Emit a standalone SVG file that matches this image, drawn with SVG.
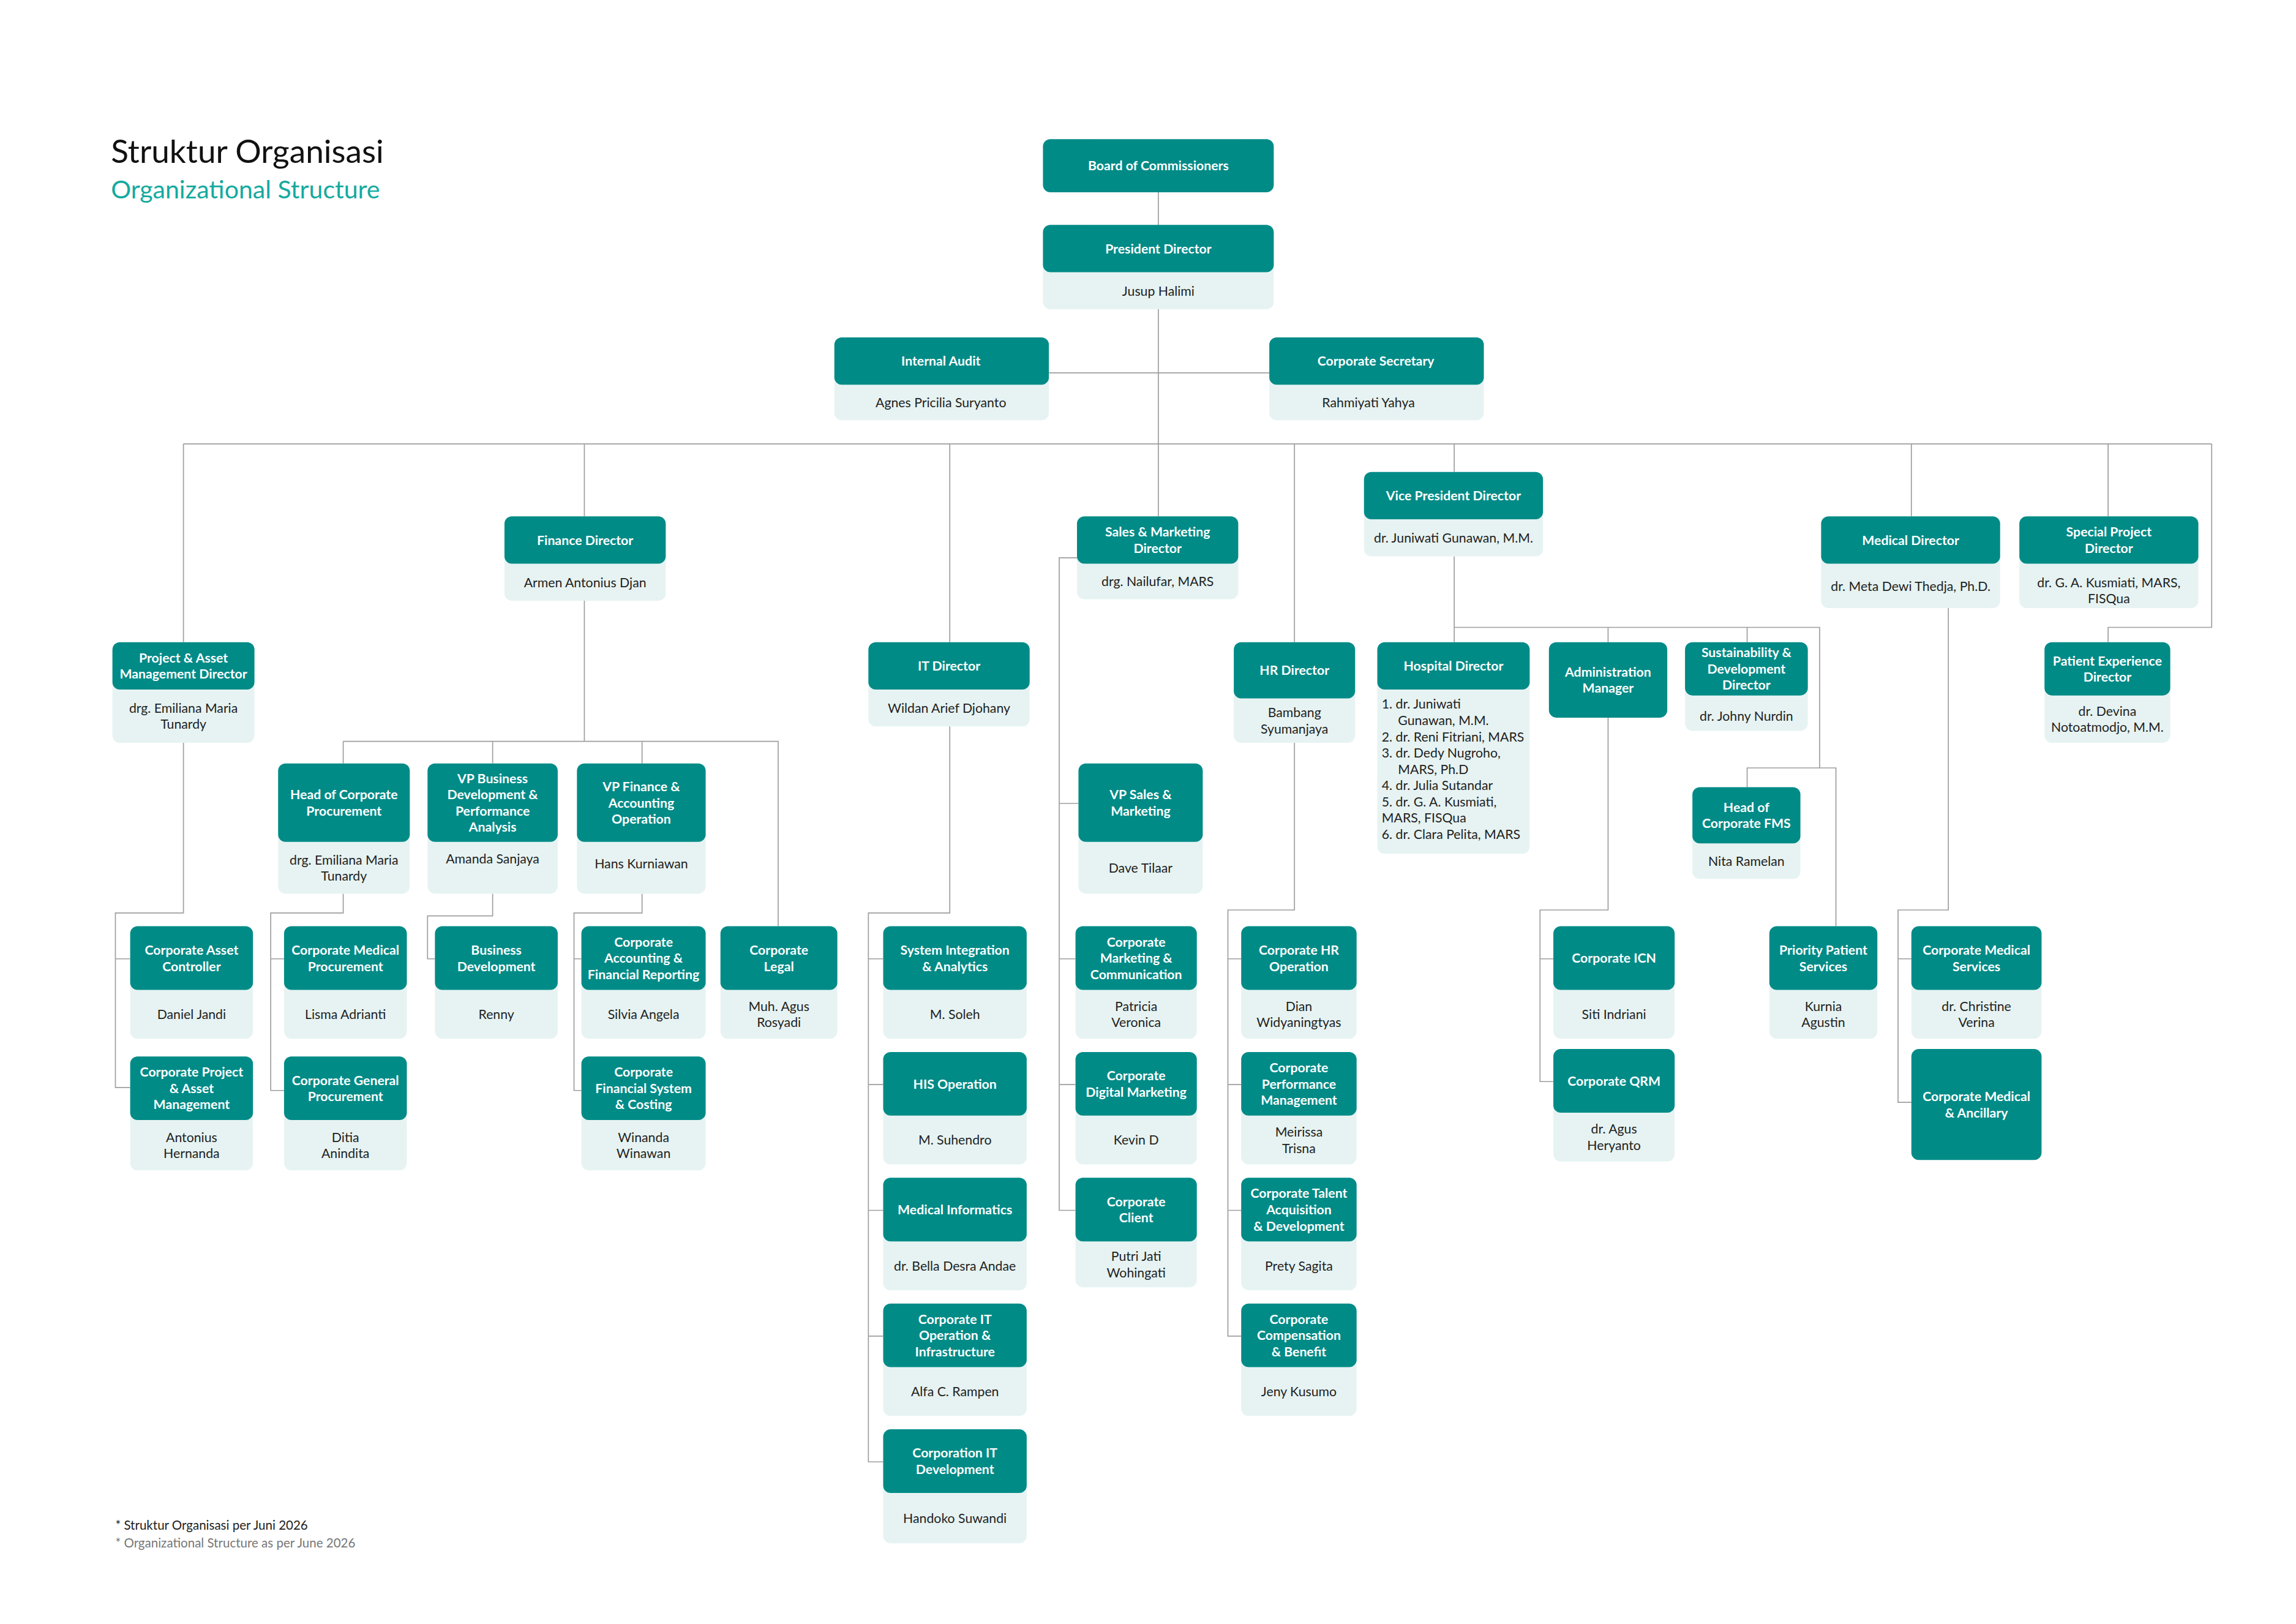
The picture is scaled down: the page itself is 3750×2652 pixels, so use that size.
<svg xmlns="http://www.w3.org/2000/svg" width="3750" height="2652" viewBox="0 0 3750 2652">
<style>
.h{fill:#008b87}.b{fill:#e6f3f2}
.ht{font-family:Lato,"Liberation Sans",sans-serif;font-weight:bold;font-size:8.8px;fill:#fff;text-anchor:middle}
.bt{font-family:Lato,"Liberation Sans",sans-serif;font-size:8.8px;fill:#222;text-anchor:middle}
.lt{font-family:Lato,"Liberation Sans",sans-serif;font-size:8.8px;fill:#222}
.c{fill:none;stroke:#9e9e9e;stroke-width:0.7}
</style>
<rect width="3750" height="2652" fill="#fff"/>
<g transform="scale(2.41624)">
<g id="title">
<text x="75" y="110" style="font-family:Lato,'Liberation Sans',sans-serif;font-size:22px;fill:#111">Struktur Organisasi</text>
<text x="75" y="134" style="font-family:Lato,'Liberation Sans',sans-serif;font-size:17px;fill:#14aaa0">Organizational Structure</text>
<text x="78" y="1034" style="font-family:Lato,'Liberation Sans',sans-serif;font-size:8.5px;fill:#222">* Struktur Organisasi per Juni 2026</text>
<text x="78" y="1046" style="font-family:Lato,'Liberation Sans',sans-serif;font-size:8.5px;fill:#777">* Organizational Structure as per June 2026</text>
</g>
<g id="connectors" class="c">
<path d="M783 130V300M709 252H858M124 300H1495M124 300V434M395 300V349M642 300V434M783 300V349M875 300V434M983 300V319M1292 300V349M1425 300V349M1495 300V424H1425V434"/>
<path d="M983 376V424H1230V519H1181V532M1087 424V434M1181 424V434M1230 519H1241V626M983 424V434"/>
<path d="M1087 485V615H1041V731H1050M1041 648H1050"/>
<path d="M1317 411V615H1283V745H1292M1283 648H1292"/>
<path d="M124 502V617H78V735H88M78 648H88"/>
<path d="M395 406V501M232 501H526V626M232 501V516M333 501V516M434 501V516"/>
<path d="M232 604V617H183V737H192M183 648H192"/>
<path d="M333 604V619H289V648H294"/>
<path d="M434 604V617H388V737H393M388 648H393"/>
<path d="M642 491V617H587V988H597M587 648H597M587 733H597M587 818H597M587 903H597"/>
<path d="M728 377H716V818H727M716 543H729M716 648H727M716 733H727"/>
<path d="M875 502V615H830V903H839M830 648H839M830 733H839M830 818H839"/>
</g>

<g id="board"><rect class="h" x="705" y="94" width="156" height="36" rx="5"/><text class="ht" x="783" y="115.2">Board of Commissioners</text></g>
<g id="president"><rect class="b" x="705" y="152" width="156" height="57" rx="5"/><rect class="h" x="705" y="152" width="156" height="32" rx="5"/><text class="ht" x="783" y="171.2">President Director</text><text class="bt" x="783" y="199.7">Jusup Halimi</text></g>
<g id="audit"><rect class="b" x="564" y="228" width="145" height="56" rx="5"/><rect class="h" x="564" y="228" width="145" height="32" rx="5"/><text class="ht" x="636" y="247.2">Internal Audit</text><text class="bt" x="636" y="275.2">Agnes Pricilia Suryanto</text></g>
<g id="corpsec"><rect class="b" x="858" y="228" width="145" height="56" rx="5"/><rect class="h" x="858" y="228" width="145" height="32" rx="5"/><text class="ht" x="930" y="247.2">Corporate Secretary</text><text class="bt" x="925" y="275.2">Rahmiyati Yahya</text></g>

<g id="projdir"><rect class="b" x="76" y="434" width="96" height="68" rx="5"/><rect class="h" x="76" y="434" width="96" height="32" rx="5"/><text class="ht" x="124" y="447.7">Project &amp; Asset<tspan x="124" dy="11">Management Director</tspan></text><text class="bt" x="124" y="481.7">drg. Emiliana Maria<tspan x="124" dy="11">Tunardy</tspan></text></g>
<g id="findir"><rect class="b" x="341" y="349" width="109" height="57" rx="5"/><rect class="h" x="341" y="349" width="109" height="32" rx="5"/><text class="ht" x="395.5" y="368.2">Finance Director</text><text class="bt" x="395.5" y="396.7">Armen Antonius Djan</text></g>
<g id="itdir"><rect class="b" x="587" y="434" width="109" height="57" rx="5"/><rect class="h" x="587" y="434" width="109" height="32" rx="5"/><text class="ht" x="641.5" y="453.2">IT Director</text><text class="bt" x="641.5" y="481.7">Wildan Arief Djohany</text></g>
<g id="smdir"><rect class="b" x="728" y="349" width="109" height="56" rx="5"/><rect class="h" x="728" y="349" width="109" height="32" rx="5"/><text class="ht" x="782.5" y="362.7">Sales &amp; Marketing<tspan x="782.5" dy="11">Director</tspan></text><text class="bt" x="782.5" y="396.2">drg. Nailufar, MARS</text></g>
<g id="hrdir"><rect class="b" x="834" y="434" width="82" height="68" rx="5"/><rect class="h" x="834" y="434" width="82" height="38" rx="5"/><text class="ht" x="875" y="456.2">HR Director</text><text class="bt" x="875" y="484.7">Bambang<tspan x="875" dy="11">Syumanjaya</tspan></text></g>
<g id="vpdir"><rect class="b" x="922" y="319" width="121" height="57" rx="5"/><rect class="h" x="922" y="319" width="121" height="32" rx="5"/><text class="ht" x="982.5" y="338.2">Vice President Director</text><text class="bt" x="982.5" y="366.7">dr. Juniwati Gunawan, M.M.</text></g>
<g id="meddir"><rect class="b" x="1231" y="349" width="121" height="62" rx="5"/><rect class="h" x="1231" y="349" width="121" height="32" rx="5"/><text class="ht" x="1291.5" y="368.2">Medical Director</text><text class="bt" x="1291.5" y="399.2">dr. Meta Dewi Thedja, Ph.D.</text></g>
<g id="spdir"><rect class="b" x="1365" y="349" width="121" height="62" rx="5"/><rect class="h" x="1365" y="349" width="121" height="32" rx="5"/><text class="ht" x="1425.5" y="362.7">Special Project<tspan x="1425.5" dy="11">Director</tspan></text><text class="bt" x="1425.5" y="396.7">dr. G. A. Kusmiati, MARS,<tspan x="1425.5" dy="11">FISQua</tspan></text></g>
<g id="pedir"><rect class="b" x="1382" y="434" width="85" height="68" rx="5"/><rect class="h" x="1382" y="434" width="85" height="36" rx="5"/><text class="ht" x="1424.5" y="449.7">Patient Experience<tspan x="1424.5" dy="11">Director</tspan></text><text class="bt" x="1424.5" y="483.7">dr. Devina<tspan x="1424.5" dy="11">Notoatmodjo, M.M.</tspan></text></g>

<g id="hospdir"><rect class="b" x="931" y="434" width="103" height="143" rx="5"/><rect class="h" x="931" y="434" width="103" height="32" rx="5"/><text class="ht" x="982.5" y="453.2">Hospital Director</text>
<text class="lt" x="934" y="479">1. dr. Juniwati<tspan x="945" dy="11">Gunawan, M.M.</tspan><tspan x="934" dy="11">2. dr. Reni Fitriani, MARS</tspan><tspan x="934" dy="11">3. dr. Dedy Nugroho,</tspan><tspan x="945" dy="11">MARS, Ph.D</tspan><tspan x="934" dy="11">4. dr. Julia Sutandar</tspan><tspan x="934" dy="11">5. dr. G. A. Kusmiati,</tspan><tspan x="934" dy="11">MARS, FISQua</tspan><tspan x="934" dy="11">6. dr. Clara Pelita, MARS</tspan></text></g>
<g id="admin"><rect class="h" x="1047" y="434" width="80" height="51" rx="5"/><text class="ht" x="1087" y="457.2">Administration<tspan x="1087" dy="11">Manager</tspan></text></g>
<g id="sustain"><rect class="b" x="1139" y="434" width="83" height="60" rx="5"/><rect class="h" x="1139" y="434" width="83" height="36" rx="5"/><text class="ht" x="1180.5" y="444.2">Sustainability &amp;<tspan x="1180.5" dy="11">Development</tspan><tspan x="1180.5" dy="11">Director</tspan></text><text class="bt" x="1180.5" y="487">dr. Johny Nurdin</text></g>
<g id="fms"><rect class="b" x="1144" y="532" width="73" height="62" rx="5"/><rect class="h" x="1144" y="532" width="73" height="38" rx="5"/><text class="ht" x="1180.5" y="548.7">Head of<tspan x="1180.5" dy="11">Corporate FMS</tspan></text><text class="bt" x="1180.5" y="585.2">Nita Ramelan</text></g>
<g id="priority"><rect class="b" x="1196" y="626" width="73" height="76" rx="5"/><rect class="h" x="1196" y="626" width="73" height="43" rx="5"/><text class="ht" x="1232.5" y="645.2">Priority Patient<tspan x="1232.5" dy="11">Services</tspan></text><text class="bt" x="1232.5" y="683.2">Kurnia<tspan x="1232.5" dy="11">Agustin</tspan></text></g>
<g id="icn"><rect class="b" x="1050" y="626" width="82" height="76" rx="5"/><rect class="h" x="1050" y="626" width="82" height="43" rx="5"/><text class="ht" x="1091" y="650.7">Corporate ICN</text><text class="bt" x="1091" y="688.7">Siti Indriani</text></g>
<g id="qrm"><rect class="b" x="1050" y="709" width="82" height="76" rx="5"/><rect class="h" x="1050" y="709" width="82" height="43" rx="5"/><text class="ht" x="1091" y="733.7">Corporate QRM</text><text class="bt" x="1091" y="766.2">dr. Agus<tspan x="1091" dy="11">Heryanto</tspan></text></g>
<g id="medserv"><rect class="b" x="1292" y="626" width="88" height="76" rx="5"/><rect class="h" x="1292" y="626" width="88" height="43" rx="5"/><text class="ht" x="1336" y="645.2">Corporate Medical<tspan x="1336" dy="11">Services</tspan></text><text class="bt" x="1336" y="683.2">dr. Christine<tspan x="1336" dy="11">Verina</tspan></text></g>
<g id="medanc"><rect class="h" x="1292" y="709" width="88" height="75" rx="5"/><text class="ht" x="1336" y="744.2">Corporate Medical<tspan x="1336" dy="11">&amp; Ancillary</tspan></text></g>

<g id="assetctrl"><rect class="b" x="88" y="626" width="83" height="76" rx="5"/><rect class="h" x="88" y="626" width="83" height="43" rx="5"/><text class="ht" x="129.5" y="645.2">Corporate Asset<tspan x="129.5" dy="11">Controller</tspan></text><text class="bt" x="129.5" y="688.7">Daniel Jandi</text></g>
<g id="projasset"><rect class="b" x="88" y="714" width="83" height="77" rx="5"/><rect class="h" x="88" y="714" width="83" height="43" rx="5"/><text class="ht" x="129.5" y="727.7">Corporate Project<tspan x="129.5" dy="11">&amp; Asset</tspan><tspan x="129.5" dy="11">Management</tspan></text><text class="bt" x="129.5" y="771.7">Antonius<tspan x="129.5" dy="11">Hernanda</tspan></text></g>

<g id="procure"><rect class="b" x="188" y="516" width="89" height="88" rx="5"/><rect class="h" x="188" y="516" width="89" height="53" rx="5"/><text class="ht" x="232.5" y="540.2">Head of Corporate<tspan x="232.5" dy="11">Procurement</tspan></text><text class="bt" x="232.5" y="584.2">drg. Emiliana Maria<tspan x="232.5" dy="11">Tunardy</tspan></text></g>
<g id="vpbd"><rect class="b" x="289" y="516" width="88" height="88" rx="5"/><rect class="h" x="289" y="516" width="88" height="53" rx="5"/><text class="ht" x="333" y="529.2">VP Business<tspan x="333" dy="11">Development &amp;</tspan><tspan x="333" dy="11">Performance</tspan><tspan x="333" dy="11">Analysis</tspan></text><text class="bt" x="333" y="583.7">Amanda Sanjaya</text></g>
<g id="vpfin"><rect class="b" x="390" y="516" width="87" height="88" rx="5"/><rect class="h" x="390" y="516" width="87" height="53" rx="5"/><text class="ht" x="433.5" y="534.7">VP Finance &amp;<tspan x="433.5" dy="11">Accounting</tspan><tspan x="433.5" dy="11">Operation</tspan></text><text class="bt" x="433.5" y="586.7">Hans Kurniawan</text></g>
<g id="legal"><rect class="b" x="487" y="626" width="79" height="76" rx="5"/><rect class="h" x="487" y="626" width="79" height="43" rx="5"/><text class="ht" x="526.5" y="645.2">Corporate<tspan x="526.5" dy="11">Legal</tspan></text><text class="bt" x="526.5" y="683.2">Muh. Agus<tspan x="526.5" dy="11">Rosyadi</tspan></text></g>
<g id="medproc"><rect class="b" x="192" y="626" width="83" height="76" rx="5"/><rect class="h" x="192" y="626" width="83" height="43" rx="5"/><text class="ht" x="233.5" y="645.2">Corporate Medical<tspan x="233.5" dy="11">Procurement</tspan></text><text class="bt" x="233.5" y="688.7">Lisma Adrianti</text></g>
<g id="genproc"><rect class="b" x="192" y="714" width="83" height="77" rx="5"/><rect class="h" x="192" y="714" width="83" height="43" rx="5"/><text class="ht" x="233.5" y="733.2">Corporate General<tspan x="233.5" dy="11">Procurement</tspan></text><text class="bt" x="233.5" y="771.7">Ditia<tspan x="233.5" dy="11">Anindita</tspan></text></g>
<g id="bizdev"><rect class="b" x="294" y="626" width="83" height="76" rx="5"/><rect class="h" x="294" y="626" width="83" height="43" rx="5"/><text class="ht" x="335.5" y="645.2">Business<tspan x="335.5" dy="11">Development</tspan></text><text class="bt" x="335.5" y="688.7">Renny</text></g>
<g id="acct"><rect class="b" x="393" y="626" width="84" height="76" rx="5"/><rect class="h" x="393" y="626" width="84" height="43" rx="5"/><text class="ht" x="435" y="639.7">Corporate<tspan x="435" dy="11">Accounting &amp;</tspan><tspan x="435" dy="11">Financial Reporting</tspan></text><text class="bt" x="435" y="688.7">Silvia Angela</text></g>
<g id="finsys"><rect class="b" x="393" y="714" width="84" height="77" rx="5"/><rect class="h" x="393" y="714" width="84" height="43" rx="5"/><text class="ht" x="435" y="727.7">Corporate<tspan x="435" dy="11">Financial System</tspan><tspan x="435" dy="11">&amp; Costing</tspan></text><text class="bt" x="435" y="771.7">Winanda<tspan x="435" dy="11">Winawan</tspan></text></g>

<g id="sia"><rect class="b" x="597" y="626" width="97" height="76" rx="5"/><rect class="h" x="597" y="626" width="97" height="43" rx="5"/><text class="ht" x="645.5" y="645.2">System Integration<tspan x="645.5" dy="11">&amp; Analytics</tspan></text><text class="bt" x="645.5" y="688.7">M. Soleh</text></g>
<g id="his"><rect class="b" x="597" y="711" width="97" height="76" rx="5"/><rect class="h" x="597" y="711" width="97" height="43" rx="5"/><text class="ht" x="645.5" y="735.7">HIS Operation</text><text class="bt" x="645.5" y="773.7">M. Suhendro</text></g>
<g id="medinf"><rect class="b" x="597" y="796" width="97" height="76" rx="5"/><rect class="h" x="597" y="796" width="97" height="43" rx="5"/><text class="ht" x="645.5" y="820.7">Medical Informatics</text><text class="bt" x="645.5" y="858.7">dr. Bella Desra Andae</text></g>
<g id="itops"><rect class="b" x="597" y="881" width="97" height="76" rx="5"/><rect class="h" x="597" y="881" width="97" height="43" rx="5"/><text class="ht" x="645.5" y="894.7">Corporate  IT<tspan x="645.5" dy="11">Operation &amp;</tspan><tspan x="645.5" dy="11">Infrastructure</tspan></text><text class="bt" x="645.5" y="943.7">Alfa C. Rampen</text></g>
<g id="itdev"><rect class="b" x="597" y="966" width="97" height="77" rx="5"/><rect class="h" x="597" y="966" width="97" height="43" rx="5"/><text class="ht" x="645.5" y="985.2">Corporation IT<tspan x="645.5" dy="11">Development</tspan></text><text class="bt" x="645.5" y="1029.2">Handoko Suwandi</text></g>

<g id="vpsm"><rect class="b" x="729" y="516" width="84" height="88" rx="5"/><rect class="h" x="729" y="516" width="84" height="53" rx="5"/><text class="ht" x="771" y="540.2">VP Sales &amp;<tspan x="771" dy="11">Marketing</tspan></text><text class="bt" x="771" y="589.7">Dave Tilaar</text></g>
<g id="mktcom"><rect class="b" x="727" y="626" width="82" height="76" rx="5"/><rect class="h" x="727" y="626" width="82" height="43" rx="5"/><text class="ht" x="768" y="639.7">Corporate<tspan x="768" dy="11">Marketing &amp;</tspan><tspan x="768" dy="11">Communication</tspan></text><text class="bt" x="768" y="683.2">Patricia<tspan x="768" dy="11">Veronica</tspan></text></g>
<g id="digmkt"><rect class="b" x="727" y="711" width="82" height="76" rx="5"/><rect class="h" x="727" y="711" width="82" height="43" rx="5"/><text class="ht" x="768" y="730.2">Corporate<tspan x="768" dy="11">Digital Marketing</tspan></text><text class="bt" x="768" y="773.7">Kevin D</text></g>
<g id="client"><rect class="b" x="727" y="796" width="82" height="74" rx="5"/><rect class="h" x="727" y="796" width="82" height="43" rx="5"/><text class="ht" x="768" y="815.2">Corporate<tspan x="768" dy="11">Client</tspan></text><text class="bt" x="768" y="852.2">Putri Jati<tspan x="768" dy="11">Wohingati</tspan></text></g>

<g id="hrops"><rect class="b" x="839" y="626" width="78" height="76" rx="5"/><rect class="h" x="839" y="626" width="78" height="43" rx="5"/><text class="ht" x="878" y="645.2">Corporate HR<tspan x="878" dy="11">Operation</tspan></text><text class="bt" x="878" y="683.2">Dian<tspan x="878" dy="11">Widyaningtyas</tspan></text></g>
<g id="perf"><rect class="b" x="839" y="711" width="78" height="76" rx="5"/><rect class="h" x="839" y="711" width="78" height="43" rx="5"/><text class="ht" x="878" y="724.7">Corporate<tspan x="878" dy="11">Performance</tspan><tspan x="878" dy="11">Management</tspan></text><text class="bt" x="878" y="768.2">Meirissa<tspan x="878" dy="11">Trisna</tspan></text></g>
<g id="talent"><rect class="b" x="839" y="796" width="78" height="76" rx="5"/><rect class="h" x="839" y="796" width="78" height="43" rx="5"/><text class="ht" x="878" y="809.7">Corporate Talent<tspan x="878" dy="11">Acquisition</tspan><tspan x="878" dy="11">&amp; Development</tspan></text><text class="bt" x="878" y="858.7">Prety Sagita</text></g>
<g id="comp"><rect class="b" x="839" y="881" width="78" height="76" rx="5"/><rect class="h" x="839" y="881" width="78" height="43" rx="5"/><text class="ht" x="878" y="894.7">Corporate<tspan x="878" dy="11">Compensation</tspan><tspan x="878" dy="11">&amp; Benefit</tspan></text><text class="bt" x="878" y="943.7">Jeny Kusumo</text></g>
</g>
</svg>
